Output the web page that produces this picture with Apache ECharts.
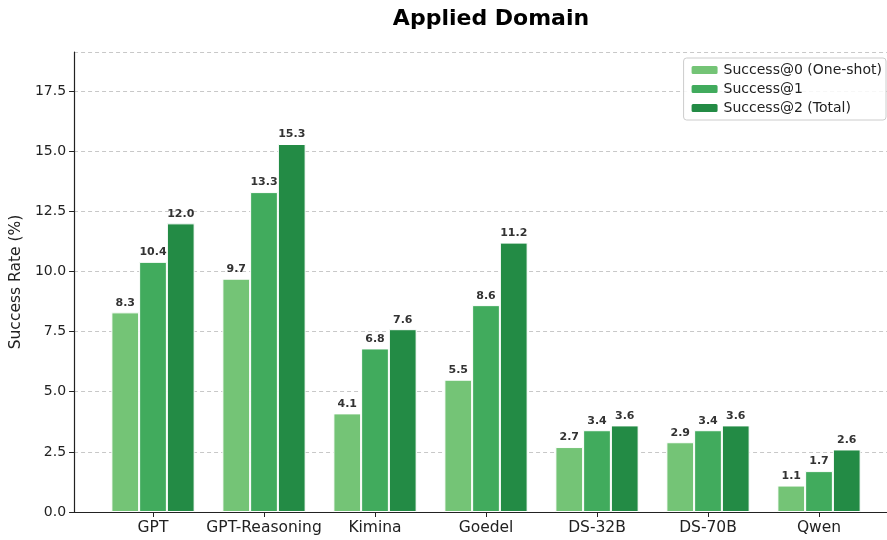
<!DOCTYPE html>
<html>
<head>
<meta charset="utf-8">
<script src="https://cdn.jsdelivr.net/npm/echarts@6/dist/echarts.min.js"></script>
<style>html,body{margin:0;padding:0;background:#fff}#main{width:887px;height:540px}</style>
</head>
<body>
<div id="main"></div>
<script>
var categories = ['GPT', 'GPT-Reasoning', 'Kimina', 'Goedel', 'DS-32B', 'DS-70B', 'Qwen'];
var success0 = [8.3, 9.7, 4.1, 5.5, 2.7, 2.9, 1.1];
var success1 = [10.4, 13.3, 6.8, 8.6, 3.4, 3.4, 1.7];
var success2 = [12.0, 15.3, 7.6, 11.2, 3.6, 3.6, 2.6];
var seriesNames = ['Success@0 (One-shot)', 'Success@1', 'Success@2 (Total)'];
var colors = ['#74c476', '#41ab5d', '#238b45'];

var font = 'DejaVu Sans';
var yMax = 19.125;

var myChart = echarts.init(document.getElementById('main'));

function barSeries(name, data, color) {
	return {
		name: name,
		type: 'bar',
		xAxisIndex: 1,
		yAxisIndex: 1,
		data: data,
		barWidth: 27.75,
		barGap: '0%',
		itemStyle: { color: color, borderColor: '#fff', borderWidth: 1 },
		label: {
			show: true,
			position: 'top',
			distance: 4,
			formatter: function (p) { return p.value.toFixed(1); },
			fontFamily: font,
			fontWeight: 'bold',
			fontSize: 11,
			color: '#333'
		}
	};
}

var option = {
	animation: false,
	textStyle: { fontFamily: font },
	title: {
		text: 'Applied Domain',
		left: 486,
		textAlign: 'center',
		top: 3,
		textStyle: { fontFamily: font, fontWeight: 'bold', fontSize: 22, color: '#000' }
	},
	legend: {
		data: seriesNames,
		orient: 'vertical',
		right: 1,
		top: 58,
		itemWidth: 28,
		itemHeight: 10,
		itemGap: 5,
		padding: [5, 4, 5, 6],
		borderColor: '#ccc',
		borderWidth: 1,
		borderRadius: 3,
		backgroundColor: 'rgba(255,255,255,0.85)',
		textStyle: { fontFamily: font, fontSize: 14, color: '#222' }
	},
	grid: [
		{ left: 74, right: 0, top: 52, bottom: 28 },
		{ left: 97.5, right: 12.5, top: 52, bottom: 28 }
	],
	xAxis: [
		{
			type: 'value', gridIndex: 0, min: 0, max: 1,
			axisLine: { show: true, lineStyle: { color: '#222', width: 1.2 } },
			axisTick: { show: false }, axisLabel: { show: false }, splitLine: { show: false }
		},
		{
			type: 'category', gridIndex: 1, data: categories,
			axisLine: { show: false },
			axisTick: { show: true, alignWithLabel: true, interval: 0, length: 5, lineStyle: { color: '#222' } },
			axisLabel: { fontFamily: font, fontSize: 15.5, color: '#222', margin: 8, interval: 0 }
		}
	],
	yAxis: [
		{
			type: 'value', gridIndex: 0, min: 0, max: yMax, interval: 2.5,
			name: 'Success Rate (%)', nameLocation: 'middle', nameGap: 47,
			nameTextStyle: { fontFamily: font, fontSize: 15.5, color: '#222' },
			axisLine: { show: true, lineStyle: { color: '#222', width: 1.2 } },
			axisTick: { show: true, length: 5, lineStyle: { color: '#222' } },
			axisLabel: {
				fontFamily: font, fontSize: 14, color: '#222', margin: 8,
				showMaxLabel: false,
				formatter: function (v) { return v.toFixed(1); }
			},
			splitLine: { show: true, lineStyle: { color: '#c8c8c8', type: [4, 3], width: 1 } }
		},
		{
			type: 'value', gridIndex: 1, min: 0, max: yMax, show: false,
			splitLine: { show: false }
		}
	],
	series: [
		barSeries(seriesNames[0], success0, colors[0]),
		barSeries(seriesNames[1], success1, colors[1]),
		barSeries(seriesNames[2], success2, colors[2])
	]
};

myChart.setOption(option);
</script>
</body>
</html>
